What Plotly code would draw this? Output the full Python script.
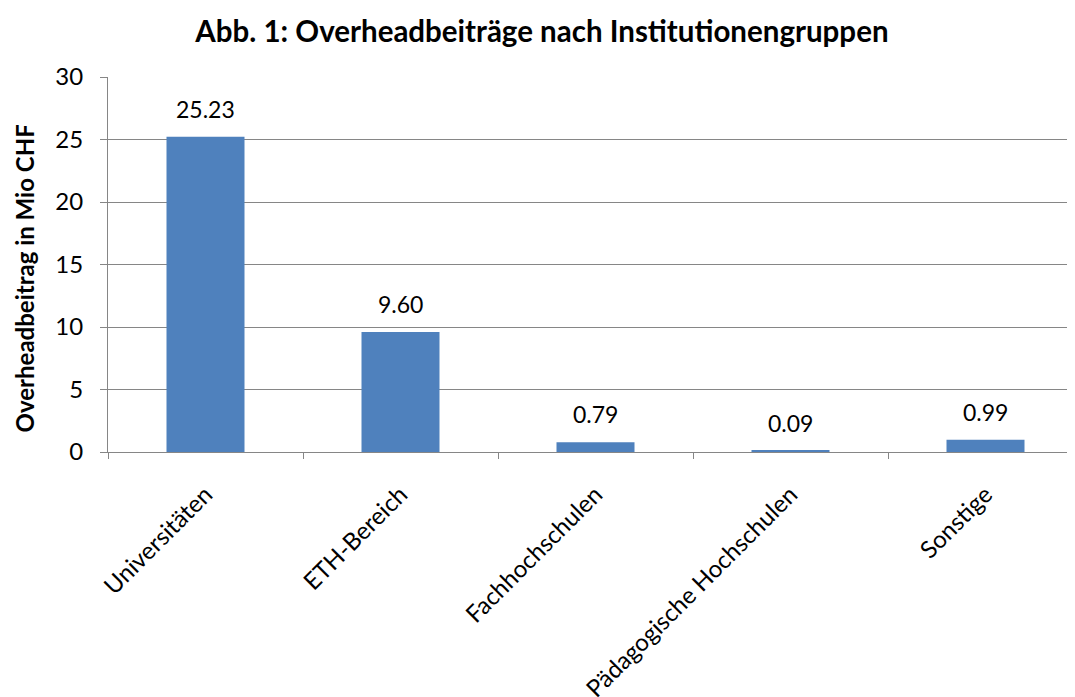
import plotly.graph_objects as go

categories = ["Universitäten", "ETH-Bereich", "Fachhochschulen", "Pädagogische Hochschulen", "Sonstige"]
values = [25.23, 9.60, 0.79, 0.09, 0.99]

FONT = "Lato"
AXC = "#868686"

fig = go.Figure()
fig.add_trace(go.Bar(
    x=categories, y=values, width=0.4,
    marker=dict(color="#4f81bd", line=dict(color="#4f81bd", width=0)),
    hoverinfo="skip",
))

for c, v in zip(categories, values):
    fig.add_annotation(x=c, y=v, text=f"{v:.2f}", showarrow=False, yshift=28,
                       font=dict(family=FONT, size=23, color="black"))

# y-axis title as annotation for precise placement
fig.add_annotation(text="<b>Overheadbeitrag in Mio CHF</b>", xref="paper", yref="paper",
                   x=0, y=0.463, xanchor="center", yanchor="middle", xshift=-84,
                   textangle=-90, showarrow=False,
                   font=dict(family=FONT, size=24, color="black"))

fig.update_layout(
    width=1075, height=697,
    margin=dict(l=100, r=0, t=69, b=253),
    paper_bgcolor="white", plot_bgcolor="white",
    showlegend=False,
    title=dict(text="<b>Abb. 1: Overheadbeiträge nach Institutionengruppen</b>",
               x=0.4967, xanchor="center", y=0.9656, yanchor="middle",
               font=dict(family=FONT, size=29.5, color="black")),
    font=dict(family=FONT, color="black"),
)
fig.update_xaxes(
    type="category", range=[-0.5, 4.5],
    tickson="boundaries", ticks="outside", ticklen=6, tickcolor=AXC, tickwidth=1,
    showline=True, linecolor=AXC, linewidth=1,
    showgrid=False, tickangle=-45, ticklabelstandoff=18,
    tickfont=dict(family=FONT, size=24, color="black"),
)
fig.update_yaxes(
    range=[0, 30], dtick=5, tick0=0,
    ticks="outside", ticklen=7, tickcolor=AXC, tickwidth=1,
    showline=True, linecolor=AXC, linewidth=1,
    showgrid=True, gridcolor=AXC, gridwidth=1, zeroline=False,
    ticklabelstandoff=12,
    tickfont=dict(family=FONT, size=24, color="black"),
)

fig.write_html("out.html")
